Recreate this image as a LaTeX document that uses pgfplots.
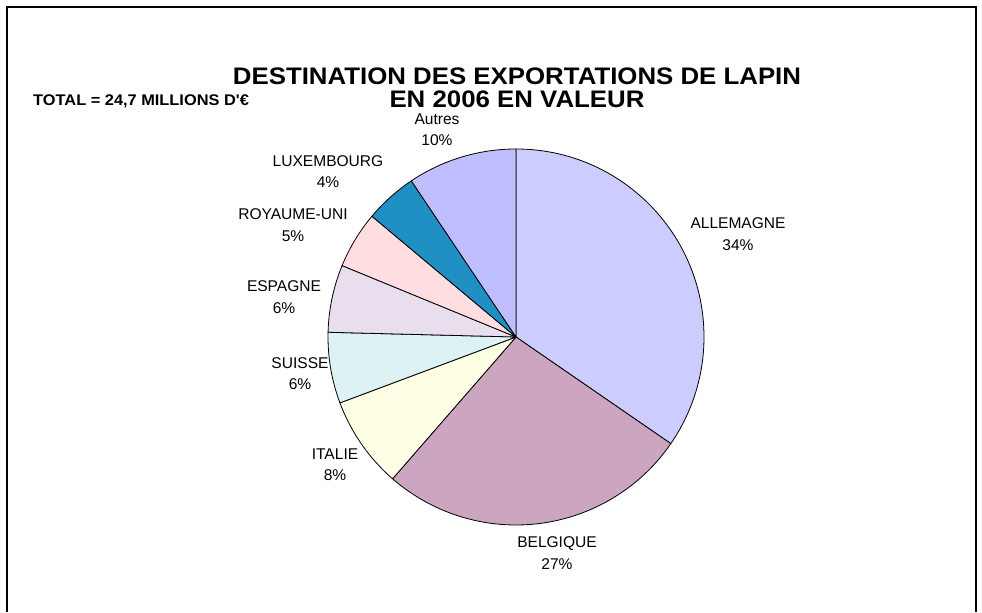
\documentclass[border=0pt]{standalone}
\usepackage{pgfplots}
\pgfplotsset{compat=1.18}
\usepackage{pgfplotstable}
\usepackage{fontspec}
\setmainfont{Liberation Sans}
\newfontfamily\rawfont{Liberation Sans}

\definecolor{cAll}{RGB}{204,204,255}
\definecolor{cBel}{RGB}{204,166,192}
\definecolor{cIta}{RGB}{255,255,230}
\definecolor{cSui}{RGB}{221,243,243}
\definecolor{cEsp}{RGB}{232,222,238}
\definecolor{cRU}{RGB}{255,221,224}
\definecolor{cLux}{RGB}{31,143,196}
\definecolor{cAut}{RGB}{191,191,255}

% share of export value (%), label, label position (px from left, px from top)
\pgfplotstableread[col sep=comma]{
name,pct,lab,lx,ly,col
ALLEMAGNE,34.6,34,738,234,cAll
BELGIQUE,26.8,27,557,553,cBel
ITALIE,7.9,8,335,465,cIta
SUISSE,6.1,6,300,373.5,cSui
ESPAGNE,5.8,6,284,297,cEsp
ROYAUME-UNI,4.9,5,293,225,cRU
LUXEMBOURG,4.5,4,328,171.5,cLux
Autres,9.4,10,437,129.5,cAut
}\piedata

\begin{document}
\begin{tikzpicture}
\begin{axis}[
  x=1bp, y=1bp,
  xmin=0, xmax=982, ymin=0, ymax=612,
  hide axis, clip=false,
]
\path (axis cs:0,0) rectangle (axis cs:982,612);
% frame
\draw[line width=1.5bp, black] (axis cs:7,0) -- (axis cs:7,605) -- (axis cs:976,605) -- (axis cs:976,0);

\def\cx{516}\def\cy{275}\def\R{188}
\def\cumangle{90}
\pgfplotsforeachungrouped \i in {0,...,7}{%
  \pgfplotstablegetelem{\i}{pct}\of\piedata \let\p=\pgfplotsretval
  \pgfplotstablegetelem{\i}{col}\of\piedata \let\c=\pgfplotsretval
  \pgfmathsetmacro{\a}{\cumangle}
  \pgfmathsetmacro{\b}{\cumangle-3.6*\p}
  \edef\cmd{\noexpand\filldraw[fill=\c, draw=black, line width=0.8bp, line join=round]
    (axis cs:\cx,\cy) -- +(\a:\R bp) arc[start angle=\a, end angle=\b, radius=\R bp] -- cycle;}
  \cmd
  \global\let\cumangle=\b
}
\pgfplotsforeachungrouped \i in {0,...,7}{%
  \pgfplotstablegetelem{\i}{name}\of\piedata \let\n=\pgfplotsretval
  \pgfplotstablegetelem{\i}{lab}\of\piedata \let\l=\pgfplotsretval
  \pgfplotstablegetelem{\i}{lx}\of\piedata \let\lx=\pgfplotsretval
  \pgfplotstablegetelem{\i}{ly}\of\piedata \let\ly=\pgfplotsretval
  \pgfmathsetmacro{\lyy}{612-\ly}
  \edef\cmd{\noexpand\node[align=center, inner sep=0pt, font=\noexpand\fontsize{15.6}{21.5}\noexpand\selectfont]
    at (axis cs:\lx,\lyy) {\n\noexpand\\\l\noexpand\%};}
  \cmd
}
\node[font=\fontsize{24}{24}\selectfont\bfseries, inner sep=0pt, xscale=1.08] at (axis cs:517,536) {DESTINATION DES EXPORTATIONS DE LAPIN};
\node[font=\fontsize{24}{24}\selectfont\bfseries, inner sep=0pt, xscale=1.08] at (axis cs:517,513) {EN 2006 EN VALEUR};
\node[font=\rawfont\fontsize{15.5}{18}\selectfont\bfseries, inner sep=0pt, anchor=west, xscale=1.06] at (axis cs:33,511) {TOTAL = 24,7 MILLIONS D'€};
\end{axis}
\end{tikzpicture}
\end{document}
